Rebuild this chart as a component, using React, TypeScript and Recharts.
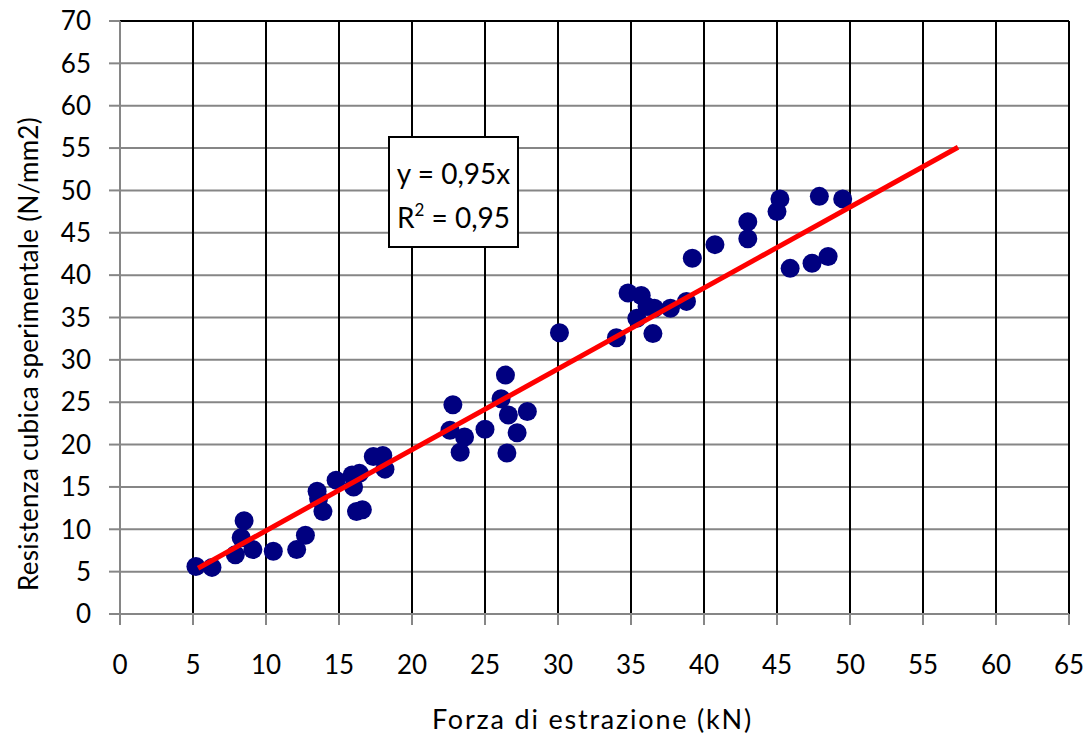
import React from 'react';
import { ScatterChart, Scatter, XAxis, YAxis, CartesianGrid, ReferenceLine } from 'recharts';

const forzaKN = [
  5.2, 6.3, 7.9, 8.3, 8.5, 9.1, 10.5, 12.1, 12.7, 13.5, 13.6, 13.9, 14.8, 15.9, 16.0, 16.4, 16.2, 16.6,
  17.35, 18.0, 18.15, 22.6, 22.8, 23.3, 23.6, 25.0, 26.1, 26.4, 26.5, 26.6, 27.2, 27.9, 30.1, 34.0,
  34.8, 35.7, 35.4, 36.1, 36.6, 36.5, 37.7, 38.8, 39.2, 40.75, 43.0, 43.0, 45.0, 45.2, 45.9, 47.4,
  48.5, 47.9, 49.5,
];
const resistenza = [
  5.6, 5.5, 7.0, 9.0, 11.0, 7.6, 7.4, 7.6, 9.3, 14.5, 13.6, 12.1, 15.8, 16.4, 15.0, 16.6, 12.1, 12.3,
  18.6, 18.7, 17.1, 21.7, 24.7, 19.1, 20.9, 21.8, 25.4, 28.2, 19.0, 23.5, 21.4, 23.9, 33.2, 32.6,
  37.9, 37.6, 34.9, 36.3, 36.1, 33.1, 36.1, 36.9, 42.0, 43.6, 46.3, 44.3, 47.5, 49.0, 40.8, 41.4,
  42.2, 49.3, 49.0,
];
const trendX = [5.35, 57.4];
const trendY = [5.4, 55.1];
const xTicks = [0, 5, 10, 15, 20, 25, 30, 35, 40, 45, 50, 55, 60, 65];
const yTicks = [0, 5, 10, 15, 20, 25, 30, 35, 40, 45, 50, 55, 60, 65, 70];

const points = forzaKN.map((x, i) => ({ x, y: resistenza[i] }));
const trend = trendX.map((x, i) => ({ x, y: trendY[i] }));

const FONT = 'Lato, "Noto Sans", sans-serif';
const FS = 26;

const Dot = (props: any) => <circle cx={props.cx} cy={props.cy} r={9.5} fill="#000080" />;
const NoDot = () => <g />;

export default function App() {
  return (
    <div style={{ position: 'relative', width: 1086, height: 736, fontFamily: FONT }}>
      <style>{'html,body{margin:0;padding:0;overflow:hidden;background:#fff}'}</style>
      <ScatterChart width={1086} height={736} margin={{ top: 21, right: 17, bottom: 0, left: 0 }}>
        <CartesianGrid vertical={false} stroke="#868686" strokeWidth={2} />
        <CartesianGrid horizontal={false} stroke="#000000" strokeWidth={2} />
        <ReferenceLine y={70} stroke="#000000" strokeWidth={2} />
        <XAxis
          type="number"
          dataKey="x"
          domain={[0, 65]}
          ticks={xTicks}
          interval={0}
          height={122}
          axisLine={{ stroke: '#868686', strokeWidth: 2 }}
          tickLine={{ stroke: '#868686', strokeWidth: 2 }}
          tickSize={11}
          tickMargin={31}
          tick={{ fill: '#000', fontSize: FS, fontFamily: FONT }}
          label={{
            content: (p: any) => {
              const vb = p.viewBox || { x: 120, width: 949 };
              return (
                <text
                  x={vb.x + vb.width / 2 - 2}
                  y={729}
                  textAnchor="middle"
                  fontSize={27}
                  letterSpacing={1.8}
                  fontFamily={FONT}
                  fill="#000"
                >
                  Forza di estrazione (kN)
                </text>
              );
            },
          }}
        />
        <YAxis
          type="number"
          dataKey="y"
          domain={[0, 70]}
          ticks={yTicks}
          interval={0}
          width={120}
          axisLine={{ stroke: '#868686', strokeWidth: 2 }}
          tickLine={{ stroke: '#868686', strokeWidth: 2 }}
          tickSize={11}
          tickMargin={18}
          tick={{ fill: '#000', fontSize: FS, fontFamily: FONT }}
          label={{
            content: () => (
              <text
                x={28}
                y={354}
                transform="rotate(-90, 28, 354)"
                textAnchor="middle"
                dominantBaseline="central"
                fontSize={FS}
                letterSpacing={0.3}
                fontFamily={FONT}
                fill="#000"
              >
                Resistenza cubica sperimentale (N/mm2)
              </text>
            ),
          }}
        />
        <Scatter data={points} shape={Dot} isAnimationActive={false} />
        <Scatter
          data={trend}
          shape={NoDot}
          line={{ stroke: '#FF0000', strokeWidth: 5 }}
          lineType="joint"
          isAnimationActive={false}
        />
      </ScatterChart>
      <div
        style={{
          position: 'absolute',
          left: 388,
          top: 136,
          width: 131,
          height: 112,
          border: '2px solid #000',
          background: '#fff',
          fontSize: 28,
          lineHeight: '44px',
          textAlign: 'center',
          paddingTop: 13,
          boxSizing: 'border-box',
        }}
      >
        <div>y = 0,95x</div>
        <div>
          R<sup style={{ fontSize: 17, verticalAlign: 'top', lineHeight: '30px' }}>2</sup> = 0,95
        </div>
      </div>
    </div>
  );
}
